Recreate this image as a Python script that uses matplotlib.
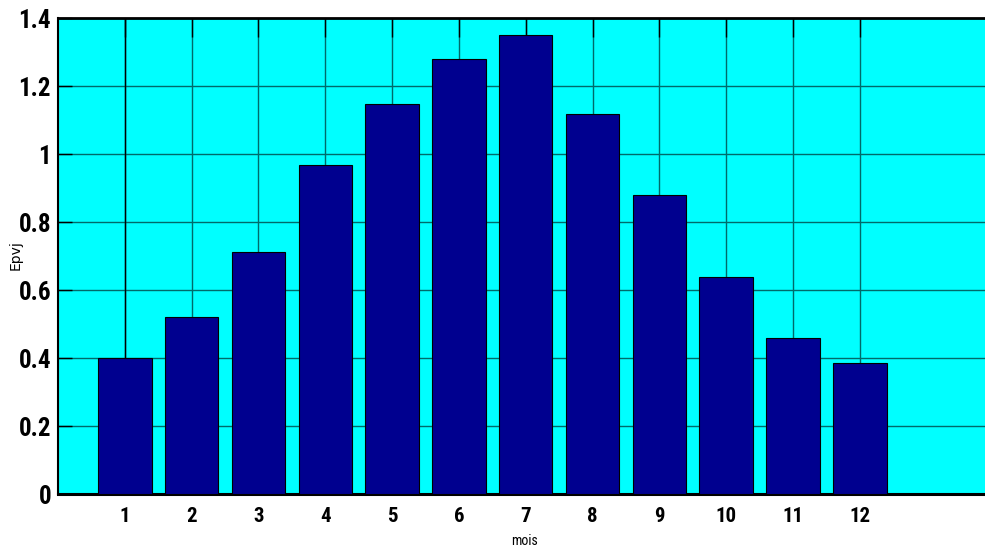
import numpy as np
import matplotlib
matplotlib.use("Agg")
from matplotlib import pyplot as plt

# monthly values
mois = [1, 2, 3, 4, 5, 6, 7, 8, 9, 10, 11, 12]
epvj = [0.401, 0.520, 0.711, 0.969, 1.146, 1.278, 1.350, 1.117, 0.879, 0.638, 0.460, 0.384]
yticks = [0, 0.2, 0.4, 0.6, 0.8, 1, 1.2, 1.4]
ytick_labels = ["0", "0.2", "0.4", "0.6", "0.8", "1", "1.2", "1.4"]

narrow = ["Roboto Condensed", "DejaVu Sans"]

fig = plt.figure(figsize=(9.85, 5.49), dpi=100)
# axes runs a bit past the right edge, the reference is cropped there
ax = fig.add_axes([58 / 985, 55 / 549, 935.5 / 985, 476 / 549])
ax.set_facecolor("#00ffff")

ax.bar(mois, epvj, width=0.8, color="#00008f", edgecolor="black", linewidth=0.8, zorder=3)

ax.set_xlim(0, 14)
ax.set_ylim(0, 1.4)
ax.set_xticks(mois)
ax.set_xticklabels([str(m) for m in mois])
ax.set_yticks(yticks)
ax.set_yticklabels(ytick_labels)

ax.grid(True, color="#006a6a", linewidth=1.0, zorder=1)
ax.set_axisbelow(True)
ax.axvline(1, color="black", linewidth=1.0, zorder=2)

ax.tick_params(axis="x", direction="in", top=True, length=14, width=1, pad=9)
ax.tick_params(axis="y", direction="in", length=10, width=1, pad=5)
for lab in ax.get_xticklabels():
    lab.set_family(narrow)
    lab.set_fontweight("bold")
    lab.set_fontsize(15)
for lab in ax.get_yticklabels():
    lab.set_family(narrow)
    lab.set_fontweight("bold")
    lab.set_fontsize(18)

ax.spines["right"].set_visible(False)
ax.spines["left"].set_linewidth(1.5)
ax.spines["top"].set_linewidth(2)
ax.spines["bottom"].set_linewidth(2.2)

fig.text(525 / 985, 1 - 541 / 549, "mois", family=narrow, fontsize=10, ha="center", va="center")
fig.text(16 / 985, 1 - 255 / 549, "Epvj", family=["DejaVu Sans"], fontsize=10,
         rotation=90, ha="center", va="center")

fig.savefig("out.png", dpi=100)
